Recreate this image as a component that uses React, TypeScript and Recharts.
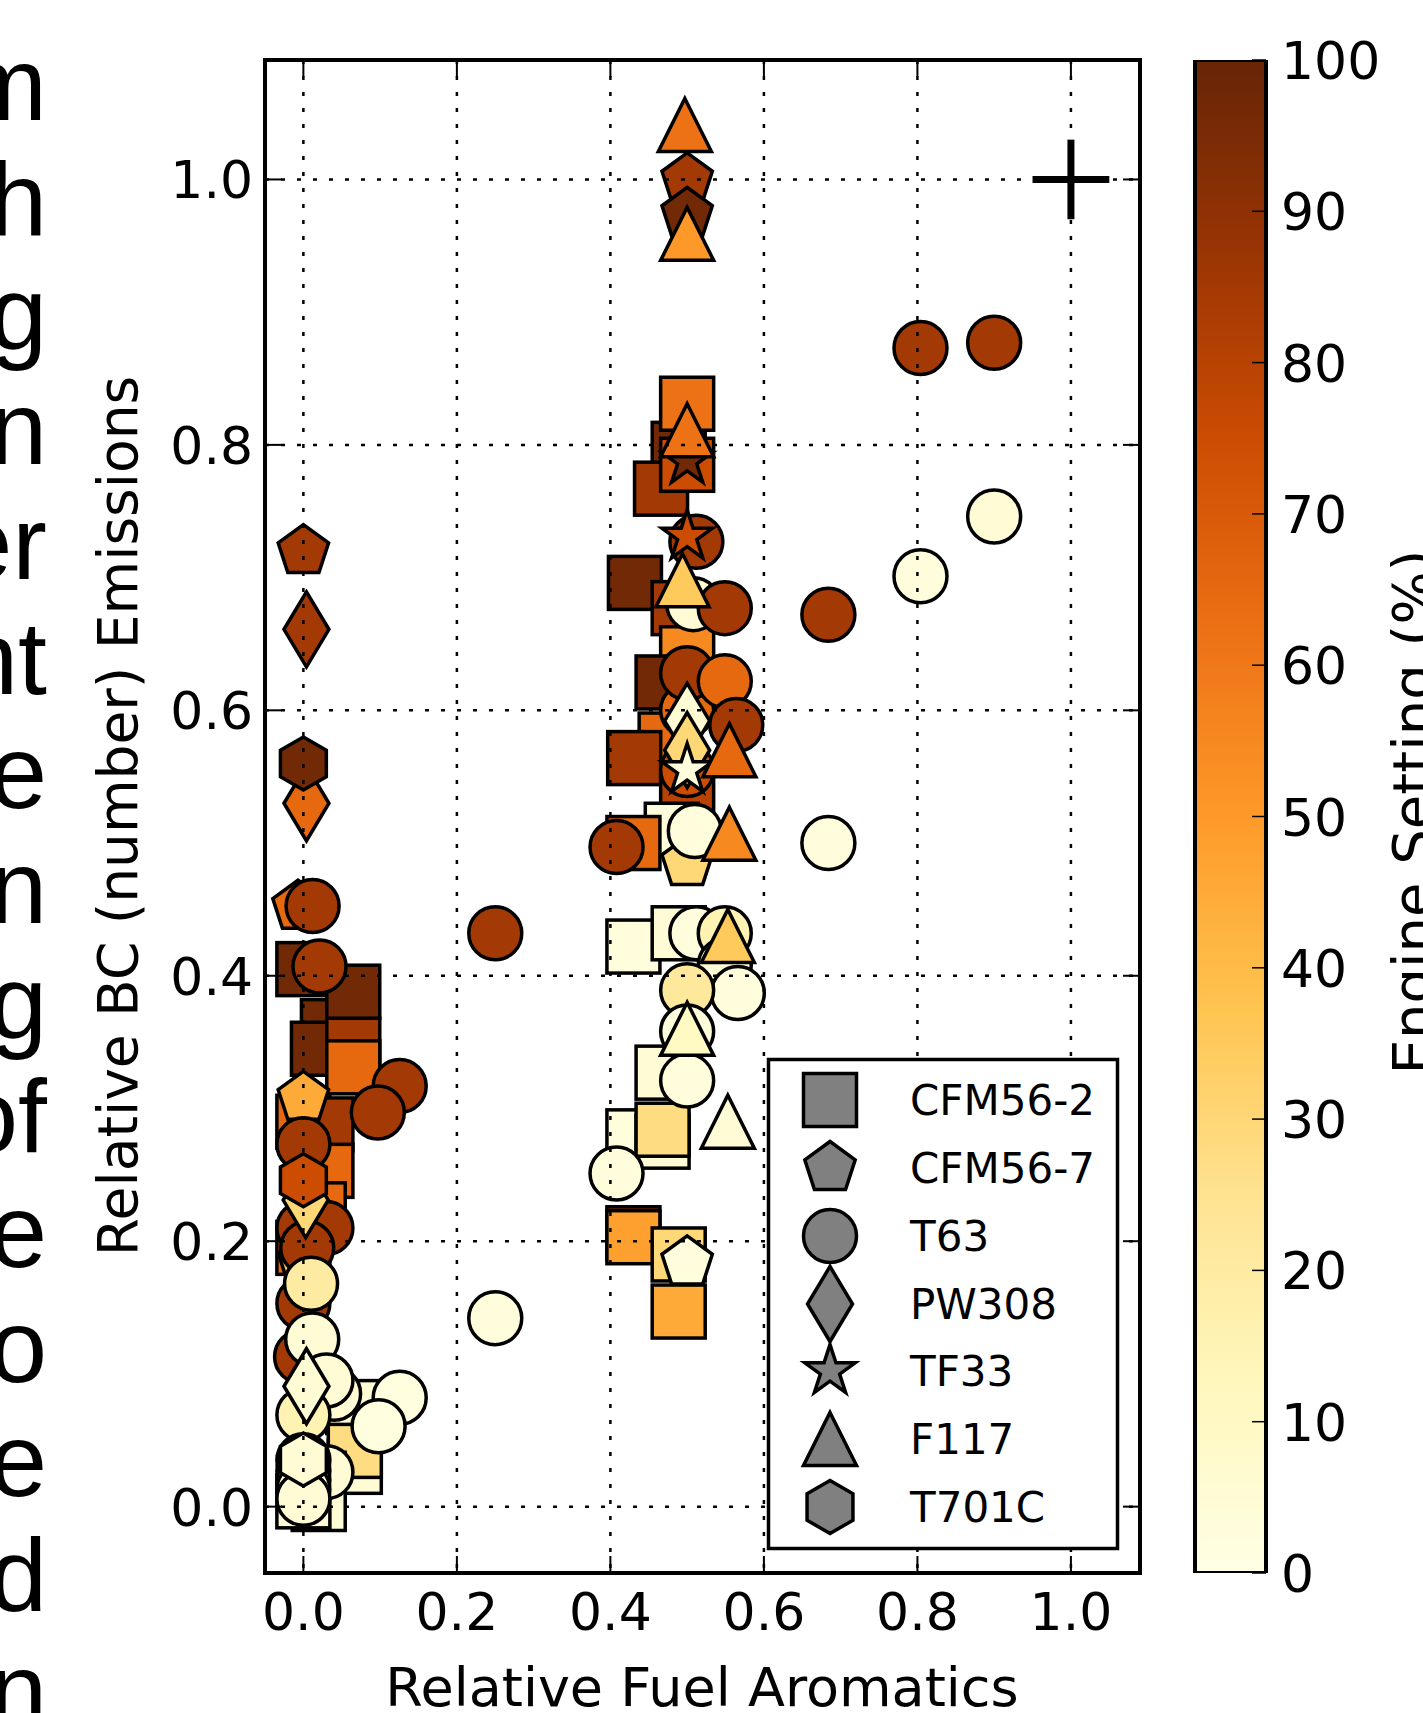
import React from 'react';
import { ScatterChart, Scatter, XAxis, YAxis, CartesianGrid, ReferenceLine, BarChart, Bar } from 'recharts';

type P = { x: number; y: number; s: number };

// ---------- axes / ticks ----------
const xDomain: [number, number] = [-0.05, 1.09];
const yDomain: [number, number] = [-0.05, 1.09];
const xTicks = [0, 0.2, 0.4, 0.6, 0.8, 1.0];
const yTicks = [0, 0.2, 0.4, 0.6, 0.8, 1.0];
const colorTicks = [0, 10, 20, 30, 40, 50, 60, 70, 80, 90, 100];
const colorRange = [{ k: 'setting', v: 100 }];

const xLabel = 'Relative Fuel Aromatics';
const yLabel = 'Relative BC (number) Emissions';
const cLabel = 'Engine Setting (%)';

// clipped text fragments of the surrounding document (left edge)
const sideText = ['m', 'h', 'g', 'n', 'er', 'nt', 'e', 'n', 'g', 'of', 'e', 'o', 'e', 'd', 'n'];

// uncertainty cross (x, y, half-widths)
const errorBar = { x: 1.0, y: 1.0, dx: 0.05, dy: 0.03 };
const errorCenter = [{ x: 1.0, y: 1.0 }];

// ---------- data: x = relative aromatics, y = relative BC, s = engine setting (%) ----------
const cfm562: P[] = [
  { x: 0.0, y: 0.405, s: 97 },
  { x: 0.032, y: 0.362, s: 97 },
  { x: 0.019, y: 0.345, s: 97 },
  { x: 0.065, y: 0.348, s: 85 },
  { x: 0.065, y: 0.388, s: 97 },
  { x: 0.065, y: 0.331, s: 65 },
  { x: 0.0, y: 0.29, s: 65 },
  { x: 0.03, y: 0.288, s: 85 },
  { x: 0.03, y: 0.253, s: 65 },
  { x: 0.02, y: 0.224, s: 65 },
  { x: 0.0, y: 0.195, s: 65 },
  { x: 0.065, y: 0.075, s: 5 },
  { x: 0.067, y: 0.03, s: 5 },
  { x: 0.067, y: 0.042, s: 28 },
  { x: 0.02, y: 0.021, s: 28 },
  { x: 0.02, y: 0.002, s: 5 },
  { x: 0.0, y: 0.004, s: 5 },
  { x: 0.489, y: 0.797, s: 97 },
  { x: 0.466, y: 0.767, s: 85 },
  { x: 0.5, y: 0.785, s: 75 },
  { x: 0.5, y: 0.831, s: 62 },
  { x: 0.432, y: 0.696, s: 97 },
  { x: 0.489, y: 0.677, s: 85 },
  { x: 0.5, y: 0.643, s: 55 },
  { x: 0.468, y: 0.621, s: 97 },
  { x: 0.472, y: 0.578, s: 65 },
  { x: 0.431, y: 0.564, s: 85 },
  { x: 0.5, y: 0.536, s: 80 },
  { x: 0.48, y: 0.51, s: 3 },
  { x: 0.43, y: 0.5, s: 65 },
  { x: 0.43, y: 0.422, s: 3 },
  { x: 0.489, y: 0.432, s: 5 },
  { x: 0.468, y: 0.327, s: 5 },
  { x: 0.43, y: 0.279, s: 3 },
  { x: 0.468, y: 0.275, s: 5 },
  { x: 0.468, y: 0.284, s: 28 },
  { x: 0.43, y: 0.206, s: 90 },
  { x: 0.43, y: 0.203, s: 48 },
  { x: 0.489, y: 0.19, s: 30 },
  { x: 0.489, y: 0.147, s: 45 },
];

const cfm567: P[] = [
  { x: 0.0, y: 0.72, s: 85 },
  { x: -0.007, y: 0.452, s: 65 },
  { x: 0.0, y: 0.308, s: 45 },
  { x: 0.0, y: 0.185, s: 35 },
  { x: 0.5, y: 0.485, s: 30 },
  { x: 0.5, y: 0.184, s: 3 },
  { x: 0.5, y: 1.0, s: 85 },
  { x: 0.5, y: 0.974, s: 97 },
];

const t63: P[] = [
  { x: 0.012, y: 0.4525, s: 85 },
  { x: 0.021, y: 0.407, s: 85 },
  { x: 0.1255, y: 0.317, s: 85 },
  { x: 0.097, y: 0.297, s: 85 },
  { x: 0.0, y: 0.273, s: 85 },
  { x: 0.0, y: 0.21, s: 85 },
  { x: 0.03, y: 0.21, s: 85 },
  { x: 0.005, y: 0.195, s: 85 },
  { x: 0.0, y: 0.153, s: 85 },
  { x: -0.003, y: 0.113, s: 85 },
  { x: 0.01, y: 0.168, s: 20 },
  { x: 0.0115, y: 0.126, s: 5 },
  { x: 0.04, y: 0.085, s: 5 },
  { x: 0.03, y: 0.095, s: 5 },
  { x: 0.0, y: 0.069, s: 15 },
  { x: 0.1255, y: 0.082, s: 2 },
  { x: 0.098, y: 0.0605, s: 2 },
  { x: 0.03, y: 0.026, s: 5 },
  { x: 0.0, y: 0.035, s: 3 },
  { x: 0.0, y: 0.027, s: 5 },
  { x: 0.0, y: 0.02, s: 8 },
  { x: 0.0, y: 0.013, s: 3 },
  { x: 0.0, y: 0.006, s: 5 },
  { x: 0.25, y: 0.432, s: 85 },
  { x: 0.25, y: 0.142, s: 3 },
  { x: 0.512, y: 0.727, s: 85 },
  { x: 0.508, y: 0.68, s: 5 },
  { x: 0.549, y: 0.677, s: 85 },
  { x: 0.5, y: 0.6, s: 65 },
  { x: 0.5, y: 0.628, s: 85 },
  { x: 0.549, y: 0.622, s: 65 },
  { x: 0.564, y: 0.589, s: 85 },
  { x: 0.5, y: 0.555, s: 75 },
  { x: 0.51, y: 0.509, s: 3 },
  { x: 0.408, y: 0.497, s: 85 },
  { x: 0.512, y: 0.432, s: 3 },
  { x: 0.549, y: 0.432, s: 15 },
  { x: 0.549, y: 0.408, s: 5 },
  { x: 0.566, y: 0.387, s: 3 },
  { x: 0.5, y: 0.389, s: 22 },
  { x: 0.5, y: 0.358, s: 3 },
  { x: 0.5, y: 0.321, s: 3 },
  { x: 0.408, y: 0.251, s: 3 },
  { x: 0.684, y: 0.672, s: 85 },
  { x: 0.684, y: 0.5, s: 3 },
  { x: 0.804, y: 0.873, s: 85 },
  { x: 0.9, y: 0.877, s: 85 },
  { x: 0.804, y: 0.701, s: 3 },
  { x: 0.9, y: 0.746, s: 5 },
];

const pw308: P[] = [
  { x: 0.004, y: 0.661, s: 85 },
  { x: 0.004, y: 0.53, s: 65 },
  { x: 0.003, y: 0.231, s: 30 },
  { x: 0.004, y: 0.0907, s: 5 },
  { x: 0.5, y: 0.592, s: 5 },
  { x: 0.5, y: 0.57, s: 30 },
];

const tf33: P[] = [
  { x: 0.5, y: 0.788, s: 97 },
  { x: 0.5, y: 0.731, s: 75 },
  { x: 0.5, y: 0.555, s: 3 },
];

const f117: P[] = [
  { x: 0.5, y: 0.811, s: 62 },
  { x: 0.494, y: 0.698, s: 35 },
  { x: 0.555, y: 0.57, s: 65 },
  { x: 0.555, y: 0.507, s: 55 },
  { x: 0.553, y: 0.43, s: 35 },
  { x: 0.5, y: 0.36, s: 10 },
  { x: 0.553, y: 0.29, s: 5 },
  { x: 0.497, y: 1.041, s: 62 },
  { x: 0.5, y: 0.959, s: 50 },
];

const t701c: P[] = [
  { x: 0.0, y: 0.56, s: 97 },
  { x: 0.0, y: 0.246, s: 75 },
  { x: 0.0, y: 0.0355, s: 5 },
];

type Kind = 'square' | 'pentagon' | 'circle' | 'diamond' | 'star' | 'triangle' | 'hexagon';
const series: { name: string; kind: Kind; data: P[] }[] = [
  { name: 'CFM56-2', kind: 'square', data: cfm562 },
  { name: 'CFM56-7', kind: 'pentagon', data: cfm567 },
  { name: 'T63', kind: 'circle', data: t63 },
  { name: 'PW308', kind: 'diamond', data: pw308 },
  { name: 'TF33', kind: 'star', data: tf33 },
  { name: 'F117', kind: 'triangle', data: f117 },
  { name: 'T701C', kind: 'hexagon', data: t701c },
];

// ---------- colormap (YlOrBr) ----------
const cmapStops = ['#ffffe5', '#fff7bc', '#fee391', '#fec44f', '#fe9929', '#ec7014', '#cc4c02', '#993404', '#662506'];
const hexRgb = (h: string) => [parseInt(h.slice(1, 3), 16), parseInt(h.slice(3, 5), 16), parseInt(h.slice(5, 7), 16)];
function cmap(v: number): string {
  const n = cmapStops.length - 1;
  const t = Math.max(0, Math.min(1, v / 100)) * n;
  const i = Math.min(n - 1, Math.floor(t));
  const f = t - i;
  const a = hexRgb(cmapStops[i]);
  const b = hexRgb(cmapStops[i + 1]);
  const c = a.map((av, k) => Math.round(av + (b[k] - av) * f));
  return `rgb(${c[0]},${c[1]},${c[2]})`;
}

// ---------- markers ----------
const R = 26.5;
function poly(cx: number, cy: number, r: number, n: number): string {
  const pts: string[] = [];
  for (let k = 0; k < n; k++) {
    const a = (-90 + (360 / n) * k) * (Math.PI / 180);
    pts.push(`${cx + r * Math.cos(a)},${cy + r * Math.sin(a)}`);
  }
  return pts.join(' ');
}
function starPts(cx: number, cy: number, r: number): string {
  const pts: string[] = [];
  const ri = r * 0.381966;
  for (let k = 0; k < 10; k++) {
    const a = (-90 + 36 * k) * (Math.PI / 180);
    const rr = k % 2 === 0 ? r : ri;
    pts.push(`${cx + rr * Math.cos(a)},${cy + rr * Math.sin(a)}`);
  }
  return pts.join(' ');
}
function Marker({ kind, cx, cy, fill }: { kind: Kind; cx: number; cy: number; fill: string }) {
  const common = { fill, stroke: '#000', strokeWidth: 3.5, strokeLinejoin: 'miter' as const };
  switch (kind) {
    case 'square':
      return <rect x={cx - R} y={cy - R} width={2 * R} height={2 * R} {...common} />;
    case 'circle':
      return <circle cx={cx} cy={cy} r={R} {...common} />;
    case 'pentagon':
      return <polygon points={poly(cx, cy, R, 5)} {...common} />;
    case 'hexagon':
      return <polygon points={poly(cx, cy, R, 6)} {...common} />;
    case 'diamond': {
      const h = 37.5;
      const w = 0.6 * h;
      return <polygon points={`${cx},${cy - h} ${cx + w},${cy} ${cx},${cy + h} ${cx - w},${cy}`} {...common} />;
    }
    case 'star':
      return <polygon points={starPts(cx, cy, R)} {...common} />;
    case 'triangle':
      return <polygon points={`${cx},${cy - R} ${cx + R},${cy + R} ${cx - R},${cy + R}`} {...common} />;
  }
  return null;
}

// ---------- layout ----------
const W = 1423;
const H = 1713;
const margin = { top: 60, right: 283, bottom: 140, left: 265 };
// the overlay chart has 1px-thick axes on each side, so its margins are 1px smaller
const marginAxes = { top: 59, right: 282, bottom: 139, left: 264 };
const FONT = 'DejaVu Sans, Bitstream Vera Sans, sans-serif';
const TICK_FS = 52;
const LABEL_FS = 55;
const TICK_LEN = 17;
const fmt = (v: number) => v.toFixed(1);

const BottomTick = (p: any) => (
  <g>
    <line x1={p.x} x2={p.x} y1={p.y} y2={p.y - TICK_LEN} stroke="#000" strokeWidth={2} />
    <text x={p.x} y={p.y + 57} textAnchor="middle" fontFamily={FONT} fontSize={TICK_FS} fill="#000">
      {fmt(p.payload.value)}
    </text>
  </g>
);
const TopTick = (p: any) => (
  <line x1={p.x} x2={p.x} y1={p.y} y2={p.y + TICK_LEN} stroke="#000" strokeWidth={2} />
);
const LeftTick = (p: any) => (
  <g>
    <line x1={p.x} x2={p.x + TICK_LEN} y1={p.y} y2={p.y} stroke="#000" strokeWidth={2} />
    <text x={p.x - 12} y={p.y + 19} textAnchor="end" fontFamily={FONT} fontSize={TICK_FS} fill="#000">
      {fmt(p.payload.value)}
    </text>
  </g>
);
const RightTick = (p: any) => (
  <line x1={p.x} x2={p.x - TICK_LEN} y1={p.y} y2={p.y} stroke="#000" strokeWidth={2} />
);
const ColorTick = (p: any) => (
  <g>
    <line x1={p.x} x2={p.x - 14} y1={p.y} y2={p.y} stroke="#000" strokeWidth={1.5} />
    <text x={p.x + 15} y={p.y + 19} textAnchor="start" fontFamily={FONT} fontSize={TICK_FS} fill="#000">
      {p.payload.value}
    </text>
  </g>
);

const layer: React.CSSProperties = { position: 'absolute', left: 0, top: 0 };
const axisLineStyle = { stroke: '#000', strokeWidth: 4, strokeLinecap: 'square' as const };

const legendRows = [1100, 1168, 1236, 1304, 1371, 1439, 1507];

export default function App() {
  return (
    <div style={{ position: 'absolute', left: 0, top: 0, width: W, height: H, overflow: 'hidden', background: '#fff' }}>
      {/* markers layer */}
      <div style={layer}>
        <ScatterChart width={W} height={H} margin={margin}>
          <XAxis type="number" dataKey="x" domain={xDomain} hide allowDataOverflow />
          <YAxis type="number" dataKey="y" domain={yDomain} hide allowDataOverflow />
          {series.map((sr) => (
            <Scatter
              key={sr.name}
              name={sr.name}
              data={sr.data}
              isAnimationActive={false}
              shape={(p: any) => <Marker kind={sr.kind} cx={p.cx} cy={p.cy} fill={cmap(p.payload.s)} />}
            />
          ))}
        </ScatterChart>
      </div>

      {/* grid, frame, ticks, uncertainty cross on top of markers */}
      <div style={layer}>
        <ScatterChart width={W} height={H} margin={marginAxes}>
          <CartesianGrid stroke="#000" strokeDasharray="4 12" strokeWidth={2.5} />
          <XAxis
            type="number"
            dataKey="x"
            domain={xDomain}
            ticks={xTicks}
            interval={0}
            height={1}
            tickSize={0}
            tickMargin={0}
            tickLine={false}
            axisLine={axisLineStyle}
            tick={(p: any) => <BottomTick {...p} />}
            allowDataOverflow
          />
          <XAxis
            xAxisId="top"
            orientation="top"
            type="number"
            dataKey="x"
            domain={xDomain}
            ticks={xTicks}
            interval={0}
            height={1}
            tickSize={0}
            tickMargin={0}
            tickLine={false}
            axisLine={axisLineStyle}
            tick={(p: any) => <TopTick {...p} />}
            allowDataOverflow
          />
          <YAxis
            type="number"
            dataKey="y"
            domain={yDomain}
            ticks={yTicks}
            interval={0}
            width={1}
            tickSize={0}
            tickMargin={0}
            tickLine={false}
            axisLine={axisLineStyle}
            tick={(p: any) => <LeftTick {...p} />}
            allowDataOverflow
          />
          <YAxis
            yAxisId="right"
            orientation="right"
            type="number"
            dataKey="y"
            domain={yDomain}
            ticks={yTicks}
            interval={0}
            width={1}
            tickSize={0}
            tickMargin={0}
            tickLine={false}
            axisLine={axisLineStyle}
            tick={(p: any) => <RightTick {...p} />}
            allowDataOverflow
          />
          <Scatter data={errorCenter} isAnimationActive={false} shape={() => <g />} />
          <ReferenceLine
            segment={[
              { x: errorBar.x - errorBar.dx, y: errorBar.y },
              { x: errorBar.x + errorBar.dx, y: errorBar.y },
            ]}
            stroke="#000"
            strokeWidth={7}
          />
          <ReferenceLine
            segment={[
              { x: errorBar.x, y: errorBar.y - errorBar.dy },
              { x: errorBar.x, y: errorBar.y + errorBar.dy },
            ]}
            stroke="#000"
            strokeWidth={7}
          />
        </ScatterChart>
      </div>

      {/* colour bar */}
      <div style={layer}>
        <BarChart
          width={W}
          height={H}
          data={colorRange}
          margin={{ top: 60, bottom: 140, left: 1195, right: W - 1266 - 1 }}
          barCategoryGap={0}
          barGap={0}
        >
          <XAxis dataKey="k" type="category" hide />
          <YAxis
            orientation="right"
            type="number"
            domain={[0, 100]}
            ticks={colorTicks}
            interval={0}
            width={1}
            tickSize={0}
            tickMargin={0}
            tickLine={false}
            axisLine={false}
            tick={(p: any) => <ColorTick {...p} />}
            allowDataOverflow
          />
          <Bar dataKey="v" fill="url(#ylorbrGrad)" stroke="#000" strokeWidth={4} isAnimationActive={false} />
        </BarChart>
      </div>

      {/* texts and legend */}
      <svg width={W} height={H} style={{ ...layer, pointerEvents: 'none' }}>
        <defs>
          <linearGradient id="ylorbrGrad" x1="0" y1="1" x2="0" y2="0">
            {cmapStops.map((c, i) => (
              <stop key={i} offset={i / (cmapStops.length - 1)} stopColor={c} />
            ))}
          </linearGradient>
        </defs>
        {sideText.map((t, i) => (
          <text
            key={i}
            x={47}
            y={120 + 114.7 * i}
            textAnchor="end"
            fontFamily="Liberation Sans, Arial, sans-serif"
            fontSize={104}
            fill="#000"
          >
            {t}
          </text>
        ))}
        <text x={702} y={1706} textAnchor="middle" fontFamily={FONT} fontSize={54} fill="#000">
          {xLabel}
        </text>
        <text
          x={137}
          y={816}
          transform="rotate(-90 137 816)"
          textAnchor="middle"
          fontFamily={FONT}
          fontSize={LABEL_FS}
          fill="#000"
        >
          {yLabel}
        </text>
        <text
          x={1432}
          y={812}
          transform="rotate(-90 1432 812)"
          textAnchor="middle"
          fontFamily={FONT}
          fontSize={56}
          fill="#000"
        >
          {cLabel}
        </text>

        {/* legend */}
        <rect x={768.5} y={1059.5} width={349} height={489} fill="#fff" stroke="#000" strokeWidth={3.5} />
        {series.map((sr, i) => (
          <g key={sr.name}>
            <Marker kind={sr.kind} cx={830} cy={legendRows[i]} fill="#808080" />
            <text x={910} y={legendRows[i] + 15} fontFamily={FONT} fontSize={42} fill="#000">
              {sr.name}
            </text>
          </g>
        ))}
      </svg>
    </div>
  );
}
